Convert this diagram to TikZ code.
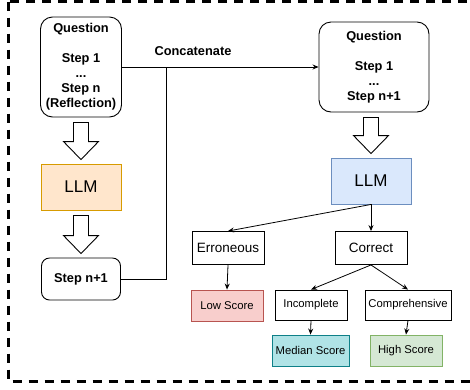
\documentclass[tikz,border=0pt]{standalone}
\usepackage{fontspec}
\setmainfont{Liberation Sans}
\usetikzlibrary{arrows.meta,calc}

\definecolor{orangeF}{HTML}{FFE6CC}\definecolor{orangeD}{HTML}{D79B00}
\definecolor{blueF}{HTML}{DAE8FC}\definecolor{blueD}{HTML}{6C8EBF}
\definecolor{redF}{HTML}{F8CECC}\definecolor{redD}{HTML}{B85450}
\definecolor{tealF}{HTML}{B0E3E6}\definecolor{tealD}{HTML}{0E8088}
\definecolor{greenF}{HTML}{D5E8D4}\definecolor{greenD}{HTML}{82B366}

% big hollow arrow from the bottom of #1 to the top of #2
\newcommand{\hollowarrow}[2]{%
  \draw[hollow] ($(#2.north |- #1.south)+(-7.5,5)$) -- ($(#2.north |- #1.south)+(7.5,5)$)
    -- ($(#2.north)+(7.5,-22)$) -- ($(#2.north)+(17.5,-22)$) -- ($(#2.north)+(0,-4)$)
    -- ($(#2.north)+(-17.5,-22)$) -- ($(#2.north)+(-7.5,-22)$) -- cycle;}

\begin{document}
\begin{tikzpicture}[
x=1pt, y=-1pt,
  quest/.style = {rectangle, draw, rounded corners=12pt, align=center,% question boxes
                  inner sep=0pt, line width=0.9pt,
                  font=\bfseries\fontsize{12.8}{15}\selectfont},
    llm/.style = {rectangle, draw, minimum width=80pt, minimum height=46pt,% model boxes
                  line width=0.9pt, font=\fontsize{17}{20}\selectfont},
    box/.style = {rectangle, draw, minimum width=72pt, minimum height=33pt,% branch boxes
                  inner sep=0pt, line width=0.9pt, font=\fontsize{13.5}{15}\selectfont},
  small/.style = {box, minimum height=30pt, font=\fontsize{11.3}{13}\selectfont},
    arr/.style = {-{Stealth[length=6pt,width=5pt]}, line width=0.8pt},
 hollow/.style = {draw, fill=white, line width=0.9pt},
                        ]
\useasboundingbox (0,0) rectangle (470,389);
\draw[line width=3pt, dash pattern=on 9pt off 7pt] (8,1.5) rectangle (490,381);

% left column
\node[quest, minimum width=81pt, minimum height=100pt] (q1) at (81,67)
    {Question\\[15pt]Step 1\\...\\Step n\\(Reflection)};
\node[llm, fill=orangeF, draw=orangeD] (llm1) at (81,187) {LLM};
\node[quest, rounded corners=8pt, minimum width=79pt, minimum height=42pt] (stepa) at (81,279) {Step n+1};
\hollowarrow{q1}{llm1}
\hollowarrow{llm1}{stepa}

% right column
\node[quest, minimum width=110pt, minimum height=90pt] (q2) at (374,67)
    {Question\\[15pt]Step 1\\...\\Step n+1};
\node[llm, fill=blueF, draw=blueD] (llm2) at (371,181) {LLM};
\hollowarrow{q2}{llm2}

\node[box] (err) at (228,248) {Erroneous};
\node[box] (corr) at (371,248) {Correct};
\node[small, minimum height=31pt, fill=redF, draw=redD] (low) at (227,305.5) {Low Score};
\node[small] (inc) at (311,305) {Incomplete};
\node[small, minimum width=86pt] (comp) at (408,305) {Comprehensive};
\node[small, minimum width=77pt, minimum height=31pt, fill=tealF, draw=tealD] (med) at (310.5,350.5) {Median Score};
\node[small, minimum height=31pt, fill=greenF, draw=greenD] (high) at (406,350.5) {High Score};

% concatenate
\coordinate (junc) at (166,67);
\node[font=\bfseries\fontsize{12.8}{15}\selectfont] (concat) at (193,51) {Concatenate};
\draw[arr] (q1.east) -- (q2.west);
\draw[line width=0.8pt] (stepa.east) -| (junc);

\draw[arr] (llm2.south) -- (err.north);
\draw[arr] (llm2.south) -- (corr.north);
\draw[arr] (err.south) -- (low.north);
\draw[arr] (corr.south) -- (inc.north);
\draw[arr] (corr.south) -- (comp.north);
\draw[arr] (inc.south) -- (med.north);
\draw[arr] (comp.south) -- (high.north);
\end{tikzpicture}
\end{document}
